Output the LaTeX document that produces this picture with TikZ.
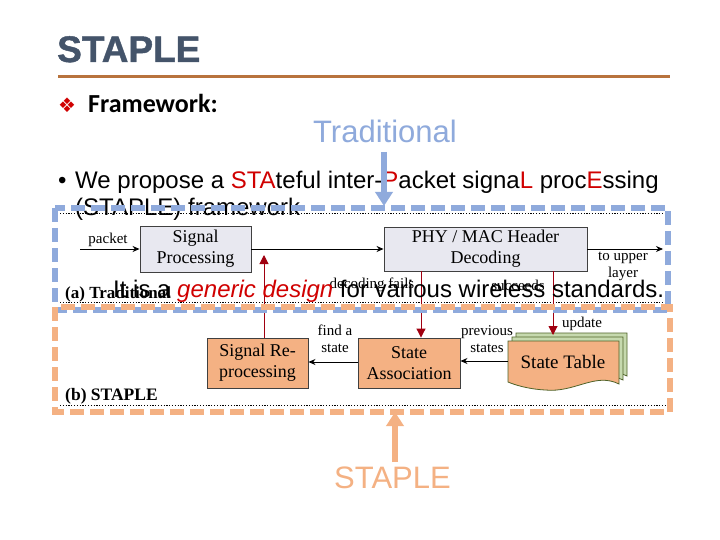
\documentclass[tikz,border=0pt]{standalone}
\usepackage{fontspec}
\setmainfont{Liberation Sans}
\newfontfamily\figfont{Liberation Serif}
\newfontfamily\calfont{Carlito}
\newfontfamily\djvfont{DejaVu Sans}
\newfontfamily\titlefont[FakeBold=1.2]{Liberation Sans Bold}
\usetikzlibrary{arrows.meta,calc}
\definecolor{slate}{HTML}{44546A}
\definecolor{rulec}{HTML}{B8733D}
\definecolor{blu}{HTML}{8FAADC}
\definecolor{org}{HTML}{F4B183}
\definecolor{redt}{HTML}{D00000}
\definecolor{darkred}{HTML}{A00010}
\definecolor{boxgray}{HTML}{E8E8F0}
\definecolor{grn}{HTML}{C6D9AE}
\definecolor{dgrn}{HTML}{4F6228}
\tikzset{
  txt/.style={inner sep=0pt, anchor=base west},
  figbox/.style={draw=black!75, line width=0.9pt, inner sep=0pt, align=center, font=\figfont\fontsize{18}{21}\selectfont},
  lbl/.style={inner sep=0pt, align=center, font=\figfont\fontsize{15}{17}\selectfont},
  conn/.style={draw=black, line width=0.9pt, -{Stealth[length=7pt,width=6pt]}},
  redconn/.style={draw=darkred, line width=1pt, -{Triangle[length=9pt,width=9pt]}},
  dotline/.style={draw=black, line width=0.8pt, dash pattern=on 1.2pt off 1.6pt},
  bigdash/.style={line width=6pt, dash pattern=on 14pt off 6pt},
  fatarrow/.style={line width=6pt, -{Triangle[width=17pt,length=14pt]}}
}
\begin{document}
\begin{tikzpicture}[x=1pt,y=-1pt]
\useasboundingbox (0,0) rectangle (720,540);
\fill[white] (0,0) rectangle (720,540);

% title
\node[txt, text=slate, font=\titlefont\fontsize{37}{40}\selectfont] (title) at (57,62) {STAPLE};
\draw[rulec, line width=3pt] (58,77) -- (670,77);
\node[txt, text=redt, font=\djvfont\fontsize{20}{22}\selectfont] (dia) at (58,113) {❖};
\node[txt, font=\calfont\bfseries\fontsize{26}{28}\selectfont] (fw) at (88,113) {Framework:};

\node[txt, text=blu, font=\fontsize{31}{33}\selectfont] (trad) at (313,143) {Traditional};

% bullet text
\node[txt, font=\fontsize{24}{26}\selectfont] (b1) at (58,189) {•};
\node[txt, font=\fontsize{24}{26}\selectfont] (l1) at (75,189) {We propose a \textcolor{redt}{STA}teful inter-\textcolor{redt}{P}acket signa\textcolor{redt}{L} proc\textcolor{redt}{E}ssing};
\node[txt, font=\fontsize{24}{26}\selectfont] (l2) at (75,215) {(STAPLE) framework};

% figure
\draw[dotline] (60,213) -- (665,213);
\draw[dotline] (60,302) -- (665,302);
\draw[dotline] (60,405) -- (665,405);

\node[figbox, fill=boxgray, minimum width=111pt, minimum height=46pt] (sp) at (195.5,249) {Signal\\Processing};
\node[figbox, fill=boxgray, minimum width=203pt, minimum height=44pt] (phy) at (485.5,249) {PHY / MAC Header\\Decoding};
\coordinate (pk) at (80,249);
\coordinate (up) at (663,249);
\node[lbl] (pktl) at (108,240) {packet};
\node[lbl, align=center] (upl) at (623,266) {to upper\\layer};
\draw[conn] (pk) -- (sp.west);
\draw[conn] (sp.east) -- (phy.west);
\draw[conn] (phy.east) -- (up);

\node[lbl] (dfl) at (372,285) {decoding fails};
\node[lbl] (sucl) at (518,285) {succeeds};
\node[txt, font=\figfont\bfseries\fontsize{17}{19}\selectfont] (cap1) at (65,298) {(a) Traditional};

\node[figbox, fill=org, minimum width=101pt, minimum height=50pt] (srp) at (257.5,363) {Signal Re-\\processing};
\node[figbox, fill=org, minimum width=102pt, minimum height=50pt] (sa) at (409,363) {State\\Association};

% state table (stack of documents)
\foreach \d/\c in {8/grn,4/grn,0/org}{
  \draw[fill=\c, draw=\ifx\c org black!80\else dgrn\fi, line width=0.8pt]
    (508+\d,341-\d) -- (619+\d,341-\d) -- (619+\d,384-\d)
    .. controls (595+\d,372-\d) and (575+\d,393-\d) .. (545+\d,390-\d)
    .. controls (528+\d,389-\d) and (515+\d,385-\d) .. (508+\d,382-\d) -- cycle;
}
\node[inner sep=0pt, font=\figfont\fontsize{19}{21}\selectfont] (st) at (563,362) {State Table};
\coordinate (stw) at (508,361);

\node[lbl] (fas) at (335,339) {find a\\state};
\node[lbl] (prs) at (487,339) {previous\\states};
\node[lbl] (upd) at (582,324) {update};
\node[txt, font=\figfont\bfseries\fontsize{17.5}{19}\selectfont] (cap2) at (65,400) {(b) STAPLE};

\draw[conn] (sa.west |- 0,362) -- (srp.east |- 0,362);
\draw[conn] (stw) -- (sa.east |- stw);

\coordinate (r1) at (264,255);
\coordinate (r2) at (421,271);
\coordinate (r3) at (553,271);
\coordinate (r3e) at (553,335);
\draw[redconn] (srp.north -| r1) -- (r1);
\draw[redconn] (r2) -- (sa.north -| r2);
\draw[redconn] (r3) -- (r3e);

% overlay second bullet
\node[txt, font=\fontsize{24}{26}\selectfont] (l3) at (113,297) {It is a \textcolor{redt}{\itshape generic design} for various wireless standards.};

% dashed frames
\draw[blu, bigdash] (55,208) rectangle (668,310);
\draw[org, bigdash] (55,307) rectangle (670,412);

% fat arrows
\coordinate (ta) at (384,152);
\coordinate (tb) at (384,206);
\draw[blu, fatarrow] (ta) -- (tb);
\node[txt, text=org, font=\fontsize{31}{33}\selectfont] (stp) at (334,488) {STAPLE};
\coordinate (sb) at (395,412);
\draw[org, fatarrow] (stp.north -| sb) ++(0,-4) -- (sb);
\end{tikzpicture}
\end{document}
